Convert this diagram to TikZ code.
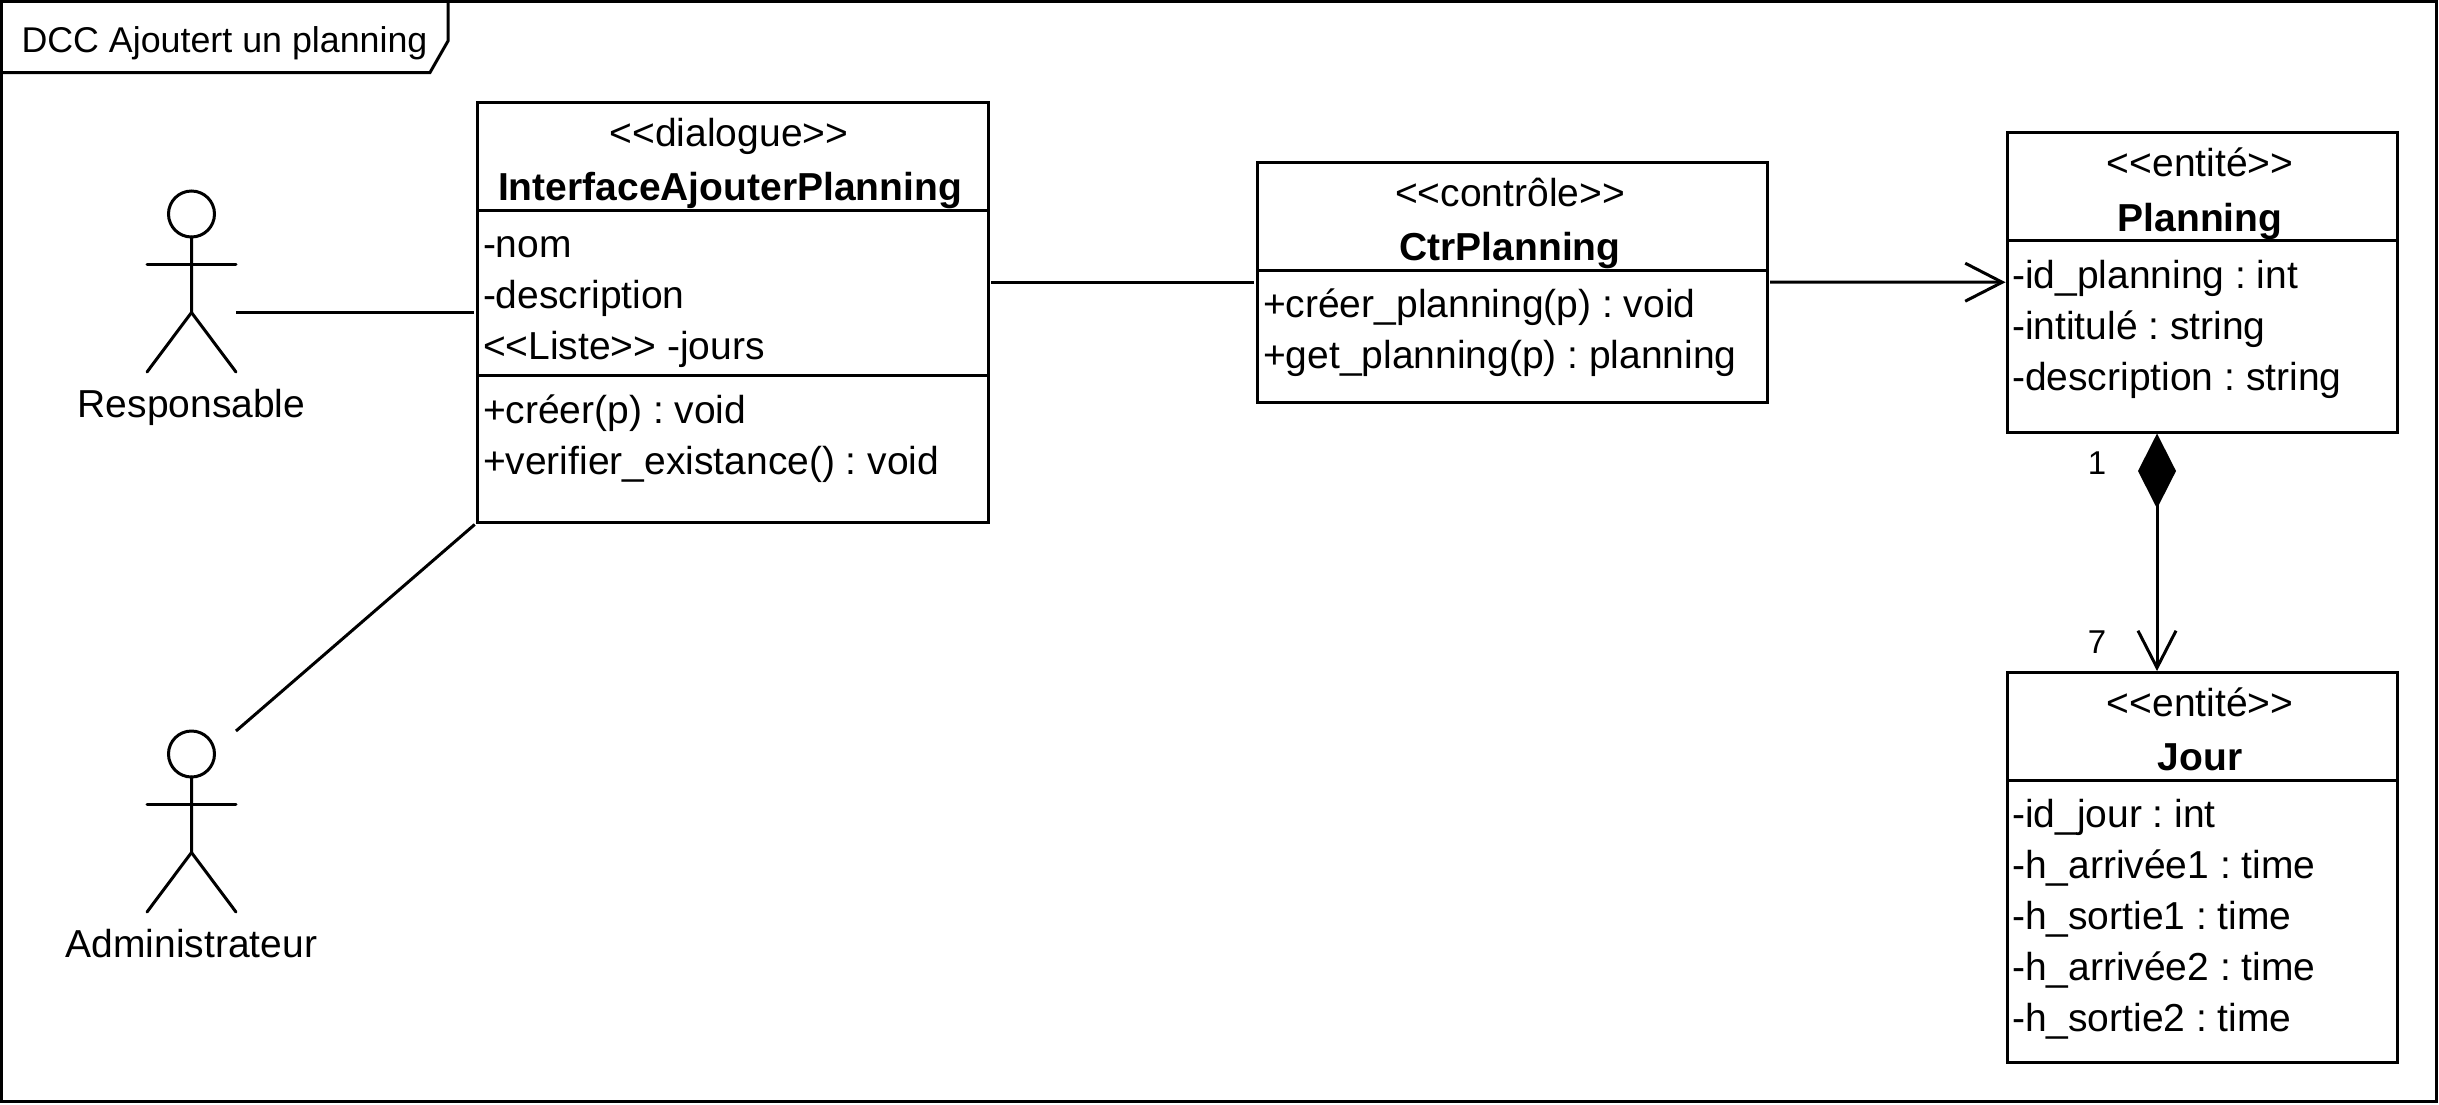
\documentclass[tikz,border=0pt]{standalone}
\usepackage{fontspec}
\setmainfont{Liberation Sans}
\usetikzlibrary{arrows.meta}
\newcommand{\lt}{{<}{<}}
\newcommand{\gt}{{>}{>}}
\tikzset{
  boxshape/.style={draw=black,line width=3pt,rectangle,inner sep=0pt,outer sep=0pt,anchor=north west,minimum width=#1},
  txt/.style={inner sep=0pt,outer sep=0pt,font=\frenchspacing\fontsize{39}{51}\selectfont,text=black},
  member/.style={txt,anchor=base west},
  stereo/.style={txt,anchor=base},
  classname/.style={txt,anchor=base,font=\frenchspacing\fontsize{39}{51}\selectfont\bfseries},
  actorlabel/.style={txt,anchor=base},
  mult/.style={inner sep=0pt,outer sep=0pt,anchor=center,font=\fontsize{33}{40}\selectfont},
  actorbox/.style={rectangle,inner sep=0pt,outer sep=0pt,minimum width=89pt,minimum height=181pt,anchor=north west},
  figline/.style={draw=black,line width=3pt,line cap=round},
  assoc/.style={draw=black,line width=3pt},
  navig/.style={assoc,-{Straight Barb[length=37pt,width=38pt,line width=3pt]}},
  compos/.style={assoc,{Diamond[length=75pt,width=38pt,fill=black]}-{Straight Barb[length=37pt,width=38pt,line width=3pt]}}
}
\begin{document}
\begin{tikzpicture}[x=1pt,y=-1pt]
\useasboundingbox (0,0) rectangle (2439,1104);
% frame
\node[rectangle,draw=black,line width=3pt,inner sep=0pt,outer sep=0pt,anchor=north west,minimum width=2435pt,minimum height=1100pt] (frame) at (1.5,1.5) {};
\draw[assoc,line join=miter] (1.5,72.5) -- (430,72.5) -- (448,41) -- (448,1.5);
\node[txt,anchor=base west,font=\frenchspacing\fontsize{35.8}{44}\selectfont] (title) at (21.5,52) {DCC Ajoutert un planning};
% actors
\node[actorbox] (actorR) at (147,191) {};
\node[actorbox] (actorA) at (147,731) {};
\foreach \a in {actorR,actorA}{
  \draw[figline] (\a.north) ++(0,23) ellipse [x radius=23,y radius=23];
  \draw[figline] (\a.north) ++(0,46) -- ++(0,75.5) -- (\a.south west);
  \draw[figline] (\a.north) ++(0,121.5) -- (\a.south east);
  \draw[figline] (\a.north) ++(-44.5,73) -- ++(89,0);
}
\node[actorlabel] (lblR) at (191.5,417.5) {Responsable};
\node[actorlabel] (lblA) at (191.5,957.5) {Administrateur};
% interface
\node[boxshape=511pt,minimum height=420pt] (iface) at (477,102.5) {};
\draw[assoc] (iface.west |- {0,210}) -- (iface.east |- {0,210});
\draw[assoc] (iface.west |- {0,375.5}) -- (iface.east |- {0,375.5});
\node[stereo] (ifaceS) at (729,146.5) {\lt dialogue\gt};
\node[classname] (ifaceN) at (730,200.5) {InterfaceAjouterPlanning};
\node[member] (ifaceA1) at (483,257.5) {-nom};
\node[member] (ifaceA2) at (483,308.5) {-description};
\node[member] (ifaceA3) at (483,359.5) {\lt Liste\gt{} -jours};
\node[member] (ifaceM1) at (483,423) {+créer(p) : void};
\node[member] (ifaceM2) at (483,474) {+verifier\_existance() : void};
% controle
\node[boxshape=510pt,minimum height=240pt] (ctr) at (1257,162) {};
\draw[assoc] (ctr.west |- {0,270}) -- (ctr.east |- {0,270});
\node[stereo] (ctrS) at (1510,206) {\lt contrôle\gt};
\node[classname] (ctrN) at (1510,260.5) {CtrPlanning};
\node[member] (ctrM1) at (1263,317) {+créer\_planning(p) : void};
\node[member] (ctrM2) at (1263,368) {+get\_planning(p) : planning};
% planning
\node[boxshape=389.5pt,minimum height=299.5pt] (planning) at (2007.5,132.5) {};
\draw[assoc] (planning.west |- {0,240.5}) -- (planning.east |- {0,240.5});
\node[stereo] (planS) at (2200,176) {\lt entité\gt};
\node[classname] (planN) at (2200,231) {Planning};
\node[member] (planA1) at (2012,288) {-id\_planning : int};
\node[member] (planA2) at (2012,339) {-intitulé : string};
\node[member] (planA3) at (2012,390) {-description : string};
% jour
\node[boxshape=389.5pt,minimum height=389.5pt] (jour) at (2007.5,672.5) {};
\draw[assoc] (jour.west |- {0,780.5}) -- (jour.east |- {0,780.5});
\node[stereo] (jourS) at (2200,716.5) {\lt entité\gt};
\node[classname] (jourN) at (2200,770.5) {Jour};
\node[member] (jourA1) at (2012,827) {-id\_jour : int};
\node[member] (jourA2) at (2012,878) {-h\_arrivée1 : time};
\node[member] (jourA3) at (2012,929) {-h\_sortie1 : time};
\node[member] (jourA4) at (2012,980) {-h\_arrivée2 : time};
\node[member] (jourA5) at (2012,1031) {-h\_sortie2 : time};
% connectors
\draw[assoc,shorten >=3pt] (actorR.east |- iface.west) -- (iface.west);
\draw[assoc,shorten >=3pt] (actorA.north east) -- (iface.south west);
\draw[assoc,shorten <=3pt,shorten >=3pt] (iface.east |- ctr.west) -- (ctr.west);
\draw[navig,shorten <=3pt,shorten >=2pt] (ctr.east) -- (planning.west);
\coordinate (compTop) at (2157,433.5);
\coordinate (compEnd) at (2157,671);
\draw[compos] (compTop) -- (compEnd);
\node[mult] (m1) at (2097,463) {1};
\node[mult] (m7) at (2097,642) {7};
\end{tikzpicture}
\end{document}
